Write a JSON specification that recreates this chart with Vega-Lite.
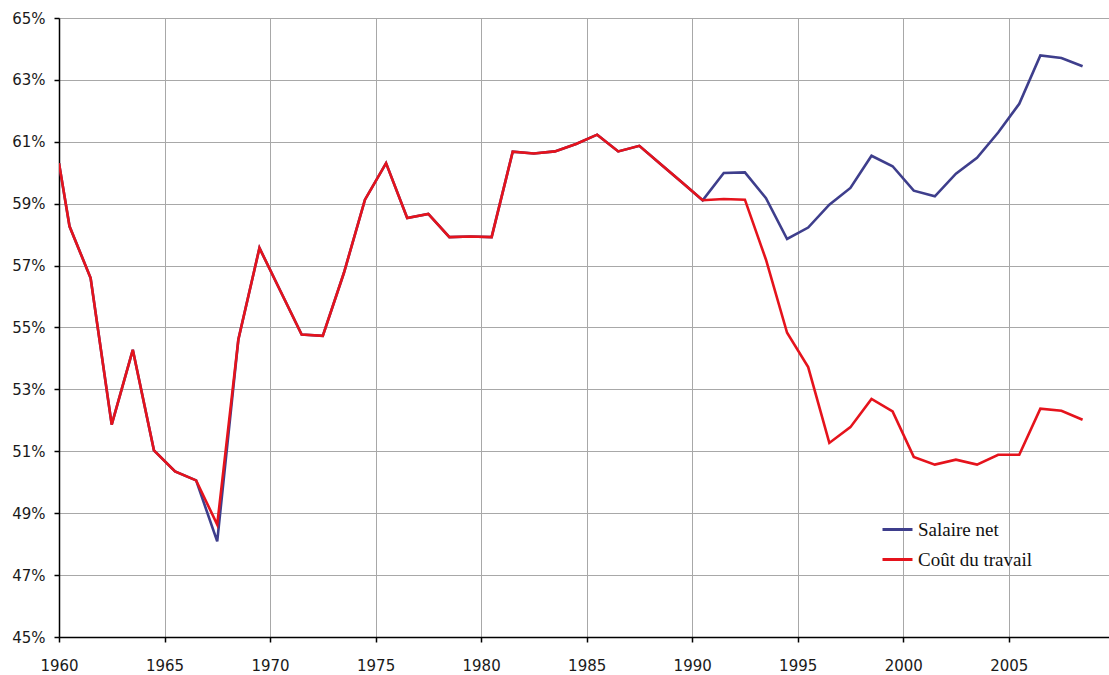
{
  "$schema": "https://vega.github.io/schema/vega-lite/v6.json",
  "width": 1050,
  "height": 619,
  "autosize": {"type": "none"},
  "padding": {"left": 59, "top": 18, "right": 0, "bottom": 38},
  "background": "white",
  "config": {
    "view": {"stroke": null},
    "axis": {
      "gridColor": "#A8A8A8",
      "gridWidth": 1,
      "domainColor": "#000000",
      "domainWidth": 1.5,
      "tickColor": "#000000",
      "tickWidth": 1.5,
      "tickSize": 5,
      "labelFont": "DejaVu Sans",
      "labelFontSize": 15,
      "labelColor": "#1a1a1a",
      "title": null
    }
  },
  "data": {
    "values": [
      {"date": "1960-01-01", "Salaire net": 0.6031, "Coût du travail": 0.6031},
      {"date": "1960-07-01", "Salaire net": 0.5827, "Coût du travail": 0.5827},
      {"date": "1961-07-01", "Salaire net": 0.5660, "Coût du travail": 0.5660},
      {"date": "1962-07-01", "Salaire net": 0.5186, "Coût du travail": 0.5186},
      {"date": "1963-07-01", "Salaire net": 0.5428, "Coût du travail": 0.5428},
      {"date": "1964-07-01", "Salaire net": 0.5103, "Coût du travail": 0.5103},
      {"date": "1965-07-01", "Salaire net": 0.5035, "Coût du travail": 0.5035},
      {"date": "1966-07-01", "Salaire net": 0.5006, "Coût du travail": 0.5006},
      {"date": "1967-07-01", "Salaire net": 0.4809, "Coût du travail": 0.4863},
      {"date": "1968-07-01", "Salaire net": 0.5461, "Coût du travail": 0.5461},
      {"date": "1969-07-01", "Salaire net": 0.5757, "Coût du travail": 0.5757},
      {"date": "1970-07-01", "Salaire net": 0.5617, "Coût du travail": 0.5617},
      {"date": "1971-07-01", "Salaire net": 0.5477, "Coût du travail": 0.5477},
      {"date": "1972-07-01", "Salaire net": 0.5473, "Coût du travail": 0.5473},
      {"date": "1973-07-01", "Salaire net": 0.5676, "Coût du travail": 0.5676},
      {"date": "1974-07-01", "Salaire net": 0.5913, "Coût du travail": 0.5913},
      {"date": "1975-07-01", "Salaire net": 0.6031, "Coût du travail": 0.6031},
      {"date": "1976-07-01", "Salaire net": 0.5854, "Coût du travail": 0.5854},
      {"date": "1977-07-01", "Salaire net": 0.5867, "Coût du travail": 0.5867},
      {"date": "1978-07-01", "Salaire net": 0.5792, "Coût du travail": 0.5792},
      {"date": "1979-07-01", "Salaire net": 0.5794, "Coût du travail": 0.5794},
      {"date": "1980-07-01", "Salaire net": 0.5792, "Coût du travail": 0.5792},
      {"date": "1981-07-01", "Salaire net": 0.6068, "Coût du travail": 0.6068},
      {"date": "1982-07-01", "Salaire net": 0.6062, "Coût du travail": 0.6062},
      {"date": "1983-07-01", "Salaire net": 0.6069, "Coût du travail": 0.6069},
      {"date": "1984-07-01", "Salaire net": 0.6093, "Coût du travail": 0.6093},
      {"date": "1985-07-01", "Salaire net": 0.6123, "Coût du travail": 0.6123},
      {"date": "1986-07-01", "Salaire net": 0.6069, "Coût du travail": 0.6069},
      {"date": "1987-07-01", "Salaire net": 0.6087, "Coût du travail": 0.6087},
      {"date": "1988-07-01", "Salaire net": 0.6028, "Coût du travail": 0.6028},
      {"date": "1989-07-01", "Salaire net": 0.5970, "Coût du travail": 0.5970},
      {"date": "1990-07-01", "Salaire net": 0.5911, "Coût du travail": 0.5911},
      {"date": "1991-07-01", "Salaire net": 0.5999, "Coût du travail": 0.5915},
      {"date": "1992-07-01", "Salaire net": 0.6001, "Coût du travail": 0.5913},
      {"date": "1993-07-01", "Salaire net": 0.5918, "Coût du travail": 0.5719},
      {"date": "1994-07-01", "Salaire net": 0.5786, "Coût du travail": 0.5483},
      {"date": "1995-07-01", "Salaire net": 0.5823, "Coût du travail": 0.5372},
      {"date": "1996-07-01", "Salaire net": 0.5897, "Coût du travail": 0.5127},
      {"date": "1997-07-01", "Salaire net": 0.5951, "Coût du travail": 0.5178},
      {"date": "1998-07-01", "Salaire net": 0.6055, "Coût du travail": 0.5269},
      {"date": "1999-07-01", "Salaire net": 0.6021, "Coût du travail": 0.5229},
      {"date": "2000-07-01", "Salaire net": 0.5942, "Coût du travail": 0.5082},
      {"date": "2001-07-01", "Salaire net": 0.5924, "Coût du travail": 0.5057},
      {"date": "2002-07-01", "Salaire net": 0.5997, "Coût du travail": 0.5073},
      {"date": "2003-07-01", "Salaire net": 0.6048, "Coût du travail": 0.5057},
      {"date": "2004-07-01", "Salaire net": 0.6130, "Coût du travail": 0.5089},
      {"date": "2005-07-01", "Salaire net": 0.6223, "Coût du travail": 0.5089},
      {"date": "2006-07-01", "Salaire net": 0.6379, "Coût du travail": 0.5238},
      {"date": "2007-07-01", "Salaire net": 0.6371, "Coût du travail": 0.5231},
      {"date": "2008-07-01", "Salaire net": 0.6344, "Coût du travail": 0.5202}
    ]
  },
  "transform": [
    {"fold": ["Salaire net", "Coût du travail"], "as": ["serie", "valeur"]}
  ],
  "mark": {"type": "line", "strokeWidth": 2.6, "clip": true},
  "encoding": {
    "x": {
      "field": "date",
      "type": "temporal",
      "scale": {"domain": [{"year": 1960, "month": 1, "date": 1, "utc": true}, {"year": 2009, "month": 10, "date": 1, "utc": true}]},
      "axis": {
        "values": [
          {"year": 1960, "utc": true}, {"year": 1965, "utc": true}, {"year": 1970, "utc": true},
          {"year": 1975, "utc": true}, {"year": 1980, "utc": true}, {"year": 1985, "utc": true},
          {"year": 1990, "utc": true}, {"year": 1995, "utc": true}, {"year": 2000, "utc": true},
          {"year": 2005, "utc": true}
        ],
        "format": "%Y",
        "formatType": "utc",
        "labelPadding": 16,
        "labelFlush": false,
        "labelOverlap": false
      }
    },
    "y": {
      "field": "valeur",
      "type": "quantitative",
      "scale": {"domain": [0.45, 0.65], "nice": false, "zero": false},
      "axis": {
        "values": [0.45, 0.47, 0.49, 0.51, 0.53, 0.55, 0.57, 0.59, 0.61, 0.63, 0.65],
        "format": ".0%",
        "labelPadding": 9,
        "labelFlush": false,
        "labelOverlap": false
      }
    },
    "color": {
      "field": "serie",
      "type": "nominal",
      "scale": {"domain": ["Salaire net", "Coût du travail"], "range": ["#3E3E8C", "#E5131C"]},
      "legend": {
        "orient": "none",
        "legendX": 822,
        "legendY": 495,
        "title": null,
        "symbolType": "stroke",
        "symbolSize": 900,
        "symbolStrokeWidth": 3,
        "labelFont": "Liberation Serif",
        "labelFontSize": 19,
        "labelColor": "#111111",
        "labelOffset": 4,
        "rowPadding": 3,
        "padding": 0
      }
    }
  }
}
